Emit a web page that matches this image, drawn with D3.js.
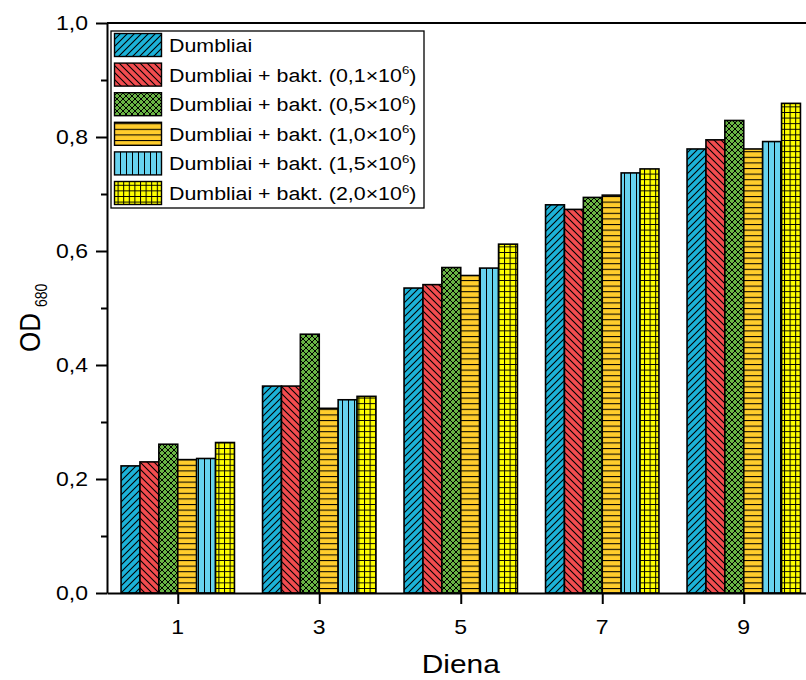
<!DOCTYPE html>
<html><head><meta charset="utf-8">
<script src="https://cdn.jsdelivr.net/npm/d3@7"></script>
<style>body{margin:0;background:#fff}svg{display:block;font-family:"Liberation Sans",Arial,sans-serif}</style>
</head><body><svg id="c" width="806" height="680"></svg>
<script>
const days = [1, 3, 5, 7, 9];
const seriesNames = ["Dumbliai", "0,1", "0,5", "1,0", "1,5", "2,0"];
const s0 = [0.223, 0.363, 0.535, 0.681, 0.779];
const s1 = [0.230, 0.363, 0.541, 0.673, 0.795];
const s2 = [0.261, 0.454, 0.571, 0.694, 0.829];
const s3 = [0.234, 0.324, 0.557, 0.698, 0.779];
const s4 = [0.236, 0.339, 0.570, 0.737, 0.792];
const s5 = [0.264, 0.345, 0.612, 0.744, 0.859];
const seriesValues = [s0, s1, s2, s3, s4, s5];
const yTicks = [0, 0.2, 0.4, 0.6, 0.8, 1.0];
const yMinor = [0.1, 0.3, 0.5, 0.7, 0.9];
const colors = ["#1cb2d8", "#f24c4f", "#69b444", "#ffcd2c", "#67d3ef", "#ffff00"];

const SX = 1.15; // horizontal stretch of the reference text
const svg = d3.select("#c");
const x = d3.scaleLinear().domain([0, 10]).range([107, 814.5]);
const y = d3.scaleLinear().domain([0, 1]).range([593, 23]);

function stext(parent, ax, ay, size, anchor) {
  return parent.append("text")
    .attr("transform", `translate(${ax},${ay}) scale(${SX},1)`)
    .attr("font-size", size).attr("text-anchor", anchor || "start").attr("fill", "#000");
}

// patterns
const defs = svg.append("defs");
function pat(id, color, w, h, d, sw) {
  const p = defs.append("pattern").attr("id", id).attr("patternUnits", "userSpaceOnUse")
    .attr("width", w).attr("height", h);
  p.append("rect").attr("width", w).attr("height", h).attr("fill", color);
  p.append("path").attr("d", d).attr("stroke", "#000").attr("stroke-width", sw).attr("fill", "none");
}
pat("p0", colors[0], 7, 7, "M-1,1 l2,-2 M0,7 l7,-7 M6,8 l2,-2", 1.1);
pat("p1", colors[1], 7, 7, "M-1,6 l2,2 M0,0 l7,7 M6,-1 l2,2", 1.1);
pat("p2", colors[2], 6, 6, "M-1,1 l2,-2 M0,6 l6,-6 M5,7 l2,-2 M-1,5 l2,2 M0,0 l6,6 M5,-1 l2,2", 1);
pat("p3", colors[3], 6, 5.6, "M0,0.5 H6", 1.1);
pat("p4", colors[4], 6, 6, "M0.5,0 V6", 1);
pat("p5", colors[5], 5.6, 5.6, "M0,0.5 H5.6 M0.5,0 V5.6", 1);

// bars
const bw = 18.9 / (x(1) - x(0));
seriesValues.forEach((vals, i) => {
  svg.append("g").selectAll("rect").data(vals).join("rect")
    .attr("x", (d, j) => x(days[j] + (i - 3) * bw))
    .attr("width", x(bw) - x(0))
    .attr("y", d => y(d))
    .attr("height", d => y(0) - y(d))
    .attr("fill", `url(#p${i})`)
    .attr("stroke", "#000").attr("stroke-width", 1.6);
});

// axes (lines/ticks)
const ax = svg.append("g").attr("transform", `translate(0,${y(0)})`)
  .call(d3.axisBottom(x).tickValues(days).tickFormat("").tickSize(11).tickSizeOuter(0));
const ayMinor = svg.append("g").attr("transform", `translate(${x(0)},0)`)
  .call(d3.axisLeft(y).tickValues(yMinor).tickFormat("").tickSize(6).tickSizeOuter(0));
const ay = svg.append("g").attr("transform", `translate(${x(0)},0)`)
  .call(d3.axisLeft(y).tickValues(yTicks).tickFormat("").tickSize(11).tickSizeOuter(0));
[ax, ay, ayMinor].forEach(g => g.selectAll("path,line").attr("stroke", "#000").attr("stroke-width", 2));
ayMinor.select("path").remove();
svg.append("line").attr("x1", x(0)).attr("x2", x(10)).attr("y1", y(1)).attr("y2", y(1)).attr("stroke", "#000").attr("stroke-width", 2);
svg.append("line").attr("x1", x(10)).attr("x2", x(10)).attr("y1", y(1)).attr("y2", y(0)).attr("stroke", "#000").attr("stroke-width", 2);

// tick labels
days.forEach(d => stext(svg, x(d), 634, 20, "middle").text(d));
yTicks.forEach(v => stext(svg, 88, y(v) + 7, 20, "end").text(d3.format(".1f")(v).replace(".", ",")));

// axis titles
stext(svg, x(5), 673, 26, "middle").text("Diena");
const yt = svg.append("text").attr("transform", `translate(40,352) scale(${SX},1) rotate(-90)`).attr("font-size", 26);
yt.append("tspan").text("OD");
yt.append("tspan").attr("font-size", 14).attr("dx", 6).attr("dy", 6).text("680");

// legend
const lg = svg.append("g");
lg.append("rect").attr("x", 111).attr("y", 31).attr("width", 313).attr("height", 177)
  .attr("fill", "#fff").attr("stroke", "#000").attr("stroke-width", 1.3);
seriesNames.forEach((n, i) => {
  const yy = 33.5 + i * 29.6;
  lg.append("rect").attr("x", 114.5).attr("y", yy).attr("width", 47).attr("height", 23)
    .attr("fill", `url(#p${i})`).attr("stroke", "#000").attr("stroke-width", 1.4);
  const t = stext(lg, 169, yy + 18.5, 18.6, "start");
  if (i === 0) { t.text(n); }
  else {
    t.append("tspan").text(`Dumbliai + bakt. (${n}×10`);
    t.append("tspan").attr("font-size", 11.5).attr("dy", -7.5).text("6");
    t.append("tspan").attr("dy", 7.5).text(")");
  }
});
</script></body></html>
